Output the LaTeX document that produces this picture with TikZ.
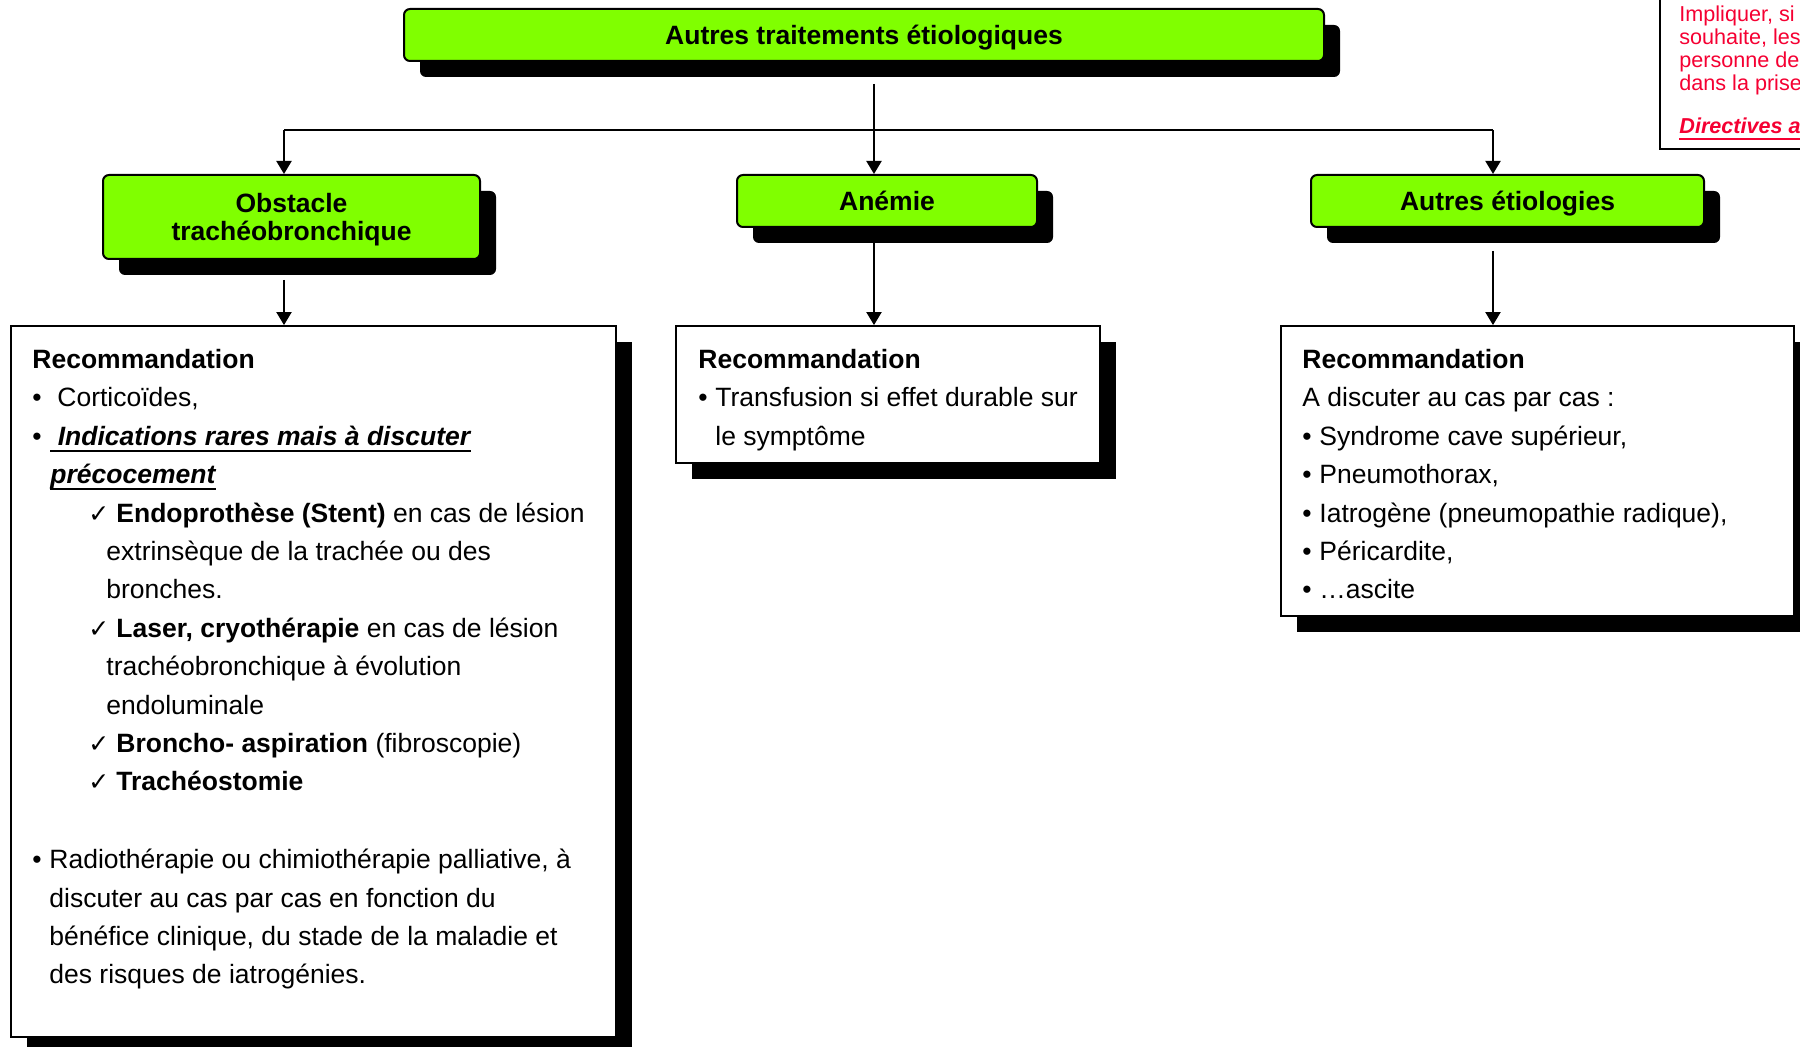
\documentclass[tikz,border=0pt]{standalone}
\usepackage{fontspec}
\setmainfont{Liberation Sans}
\newfontfamily\djv{DejaVu Sans}
\usetikzlibrary{shadows,arrows.meta}
\definecolor{vert}{RGB}{128,255,0}
\definecolor{rouge}{RGB}{245,0,50}
\newcommand\body{\fontsize{13.25}{15}\selectfont}
\newcommand\notefont{\fontsize{10.8}{11.2}\selectfont}
\newcommand\myul[1]{\setbox0\hbox{#1}\rlap{\rule[-3pt]{\wd0}{1pt}}\box0}
\begin{document}
\begin{tikzpicture}[x=0.5pt,y=-0.5pt,
  gbox/.style={draw=black,line width=1pt,fill=vert,rounded corners=3pt,
    drop shadow={shadow xshift=8pt,shadow yshift=-8pt,opacity=1,fill=black},
    inner sep=0pt,font=\bfseries\body,text height=9.5pt,text depth=0pt},
  glab/.style={anchor=base,inner sep=0pt,font=\bfseries\body},
  rbox/.style={draw=black,line width=0.9pt,fill=white,inner sep=0pt,
    drop shadow={shadow xshift=8pt,shadow yshift=-8pt,opacity=1,fill=black}},
  tl/.style={anchor=base west,inner sep=0pt,font=\body},
  chk/.style={anchor=base west,inner sep=0pt,font=\djv\fontsize{12.5}{12.5}\selectfont},
  nt/.style={anchor=base west,inner sep=0pt,font=\notefont,text=rouge},
  conn/.style={line width=1pt},
  arr/.style={conn,-{Triangle[length=6.5pt,width=7.5pt]}}]
\useasboundingbox (0,0) rectangle (1800,1047);
\clip (0,0) rectangle (1800,1047);

% green boxes
\node[gbox,minimum width=460pt,minimum height=26pt] (title) at (864,35) {Autres traitements étiologiques};
\node[gbox,minimum width=188.5pt,minimum height=42pt] (obst) at (291.5,217) {};
\node[glab] (obstA) at (291.5,213) {Obstacle};
\node[glab] (obstB) at (291.5,241) {trachéobronchique};
\node[gbox,minimum width=150pt,minimum height=26pt] (anem) at (887,201) {Anémie};
\node[gbox,minimum width=196.5pt,minimum height=26pt] (autr) at (1507.5,201) {Autres étiologies};

% recommendation boxes
\node[rbox,minimum width=302.5pt,minimum height=355.5pt] (recL) at (313.5,681.5) {};
\node[rbox,minimum width=212pt,minimum height=68.5pt] (recM) at (888,394.5) {};
\node[rbox,minimum width=256.5pt,minimum height=145pt] (recR) at (1537.5,471) {};

% connectors
\coordinate (topout) at (874,84);
\coordinate (bus) at (874,130);
\coordinate (busL) at (284,130);
\coordinate (busR) at (1493,130);
\draw[conn] (topout) -- (bus);
\draw[conn] (busL) -- (busR);
\draw[arr] (busL) -- (busL |- obst.north);
\draw[arr] (bus) -- (bus |- anem.north);
\draw[arr] (busR) -- (busR |- autr.north);
\coordinate (oL) at (284,280);
\coordinate (oM) at (874,243);
\coordinate (oR) at (1493,251);
\draw[arr] (oL) -- (oL |- recL.north);
\draw[arr] (oM) -- (oM |- recM.north);
\draw[arr] (oR) -- (oR |- recR.north);

% left box text
\node[tl] (l1) at (32,369) {\textbf{Recommandation}};
\node[tl] (l2b) at (32,407) {•};
\node[tl] (l2) at (57,407) {Corticoïdes,};
\node[tl] (l3b) at (32,446) {•};
\node[tl] (l3) at (50,446) {\myul{\textbf{\textit{\ Indications rares mais à discuter}}}};
\node[tl] (l4) at (50,484) {\myul{\textbf{\textit{précocement}}}};
\node[chk] (c5) at (88,523) {✓};
\node[tl] (l5) at (116,523) {\textbf{Endoprothèse (Stent)} en cas de lésion};
\node[tl] (l6) at (106,561) {extrinsèque de la trachée ou des};
\node[tl] (l7) at (106,599) {bronches.};
\node[chk] (c8) at (88,638) {✓};
\node[tl] (l8) at (116,638) {\textbf{Laser, cryothérapie} en cas de lésion};
\node[tl] (l9) at (106,676) {trachéobronchique à évolution};
\node[tl] (l10) at (106,715) {endoluminale};
\node[chk] (c11) at (88,753) {✓};
\node[tl] (l11) at (116,753) {\textbf{Broncho- aspiration} (fibroscopie)};
\node[chk] (c12) at (88,791) {✓};
\node[tl] (l12) at (116,791) {\textbf{Trachéostomie}};
\node[tl] (l13b) at (32,868) {•};
\node[tl] (l13) at (49,868) {Radiothérapie ou chimiothérapie palliative, à};
\node[tl] (l14) at (49,907) {discuter au cas par cas en fonction du};
\node[tl] (l15) at (49,945) {bénéfice clinique, du stade de la maladie et};
\node[tl] (l16) at (49,983) {des risques de iatrogénies.};

% middle box text
\node[tl] (m1) at (698,369) {\textbf{Recommandation}};
\node[tl] (m2b) at (698,407) {•};
\node[tl] (m2) at (715,407) {Transfusion si effet durable sur};
\node[tl] (m3) at (715,446) {le symptôme};

% right box text
\node[tl] (r1) at (1302,369) {\textbf{Recommandation}};
\node[tl] (r2) at (1302,407) {A discuter au cas par cas :};
\node[tl] (r3b) at (1302,446) {•};
\node[tl] (r3) at (1319,446) {Syndrome cave supérieur,};
\node[tl] (r4b) at (1302,484) {•};
\node[tl] (r4) at (1319,484) {Pneumothorax,};
\node[tl] (r5b) at (1302,523) {•};
\node[tl] (r5) at (1319,523) {Iatrogène (pneumopathie radique),};
\node[tl] (r6b) at (1302,561) {•};
\node[tl] (r6) at (1319,561) {Péricardite,};
\node[tl] (r7b) at (1302,599) {•};
\node[tl] (r7) at (1319,599) {…ascite};

% red note (cut at the edge)
\node[draw=black,line width=1.2pt,anchor=south west,minimum width=85.5pt,minimum height=85pt,inner sep=0pt] (note) at (1659,150) {};
\node[nt] (n1) at (1679,22) {Impliquer, si};
\node[nt] (n2) at (1679,45) {souhaite, les};
\node[nt] (n3) at (1679,68) {personne de};
\node[nt] (n4) at (1679,90.5) {dans la prise};
\node[nt] (n5) at (1679,134) {\myul{\textbf{\textit{Directives a}}}};
\end{tikzpicture}
\end{document}
